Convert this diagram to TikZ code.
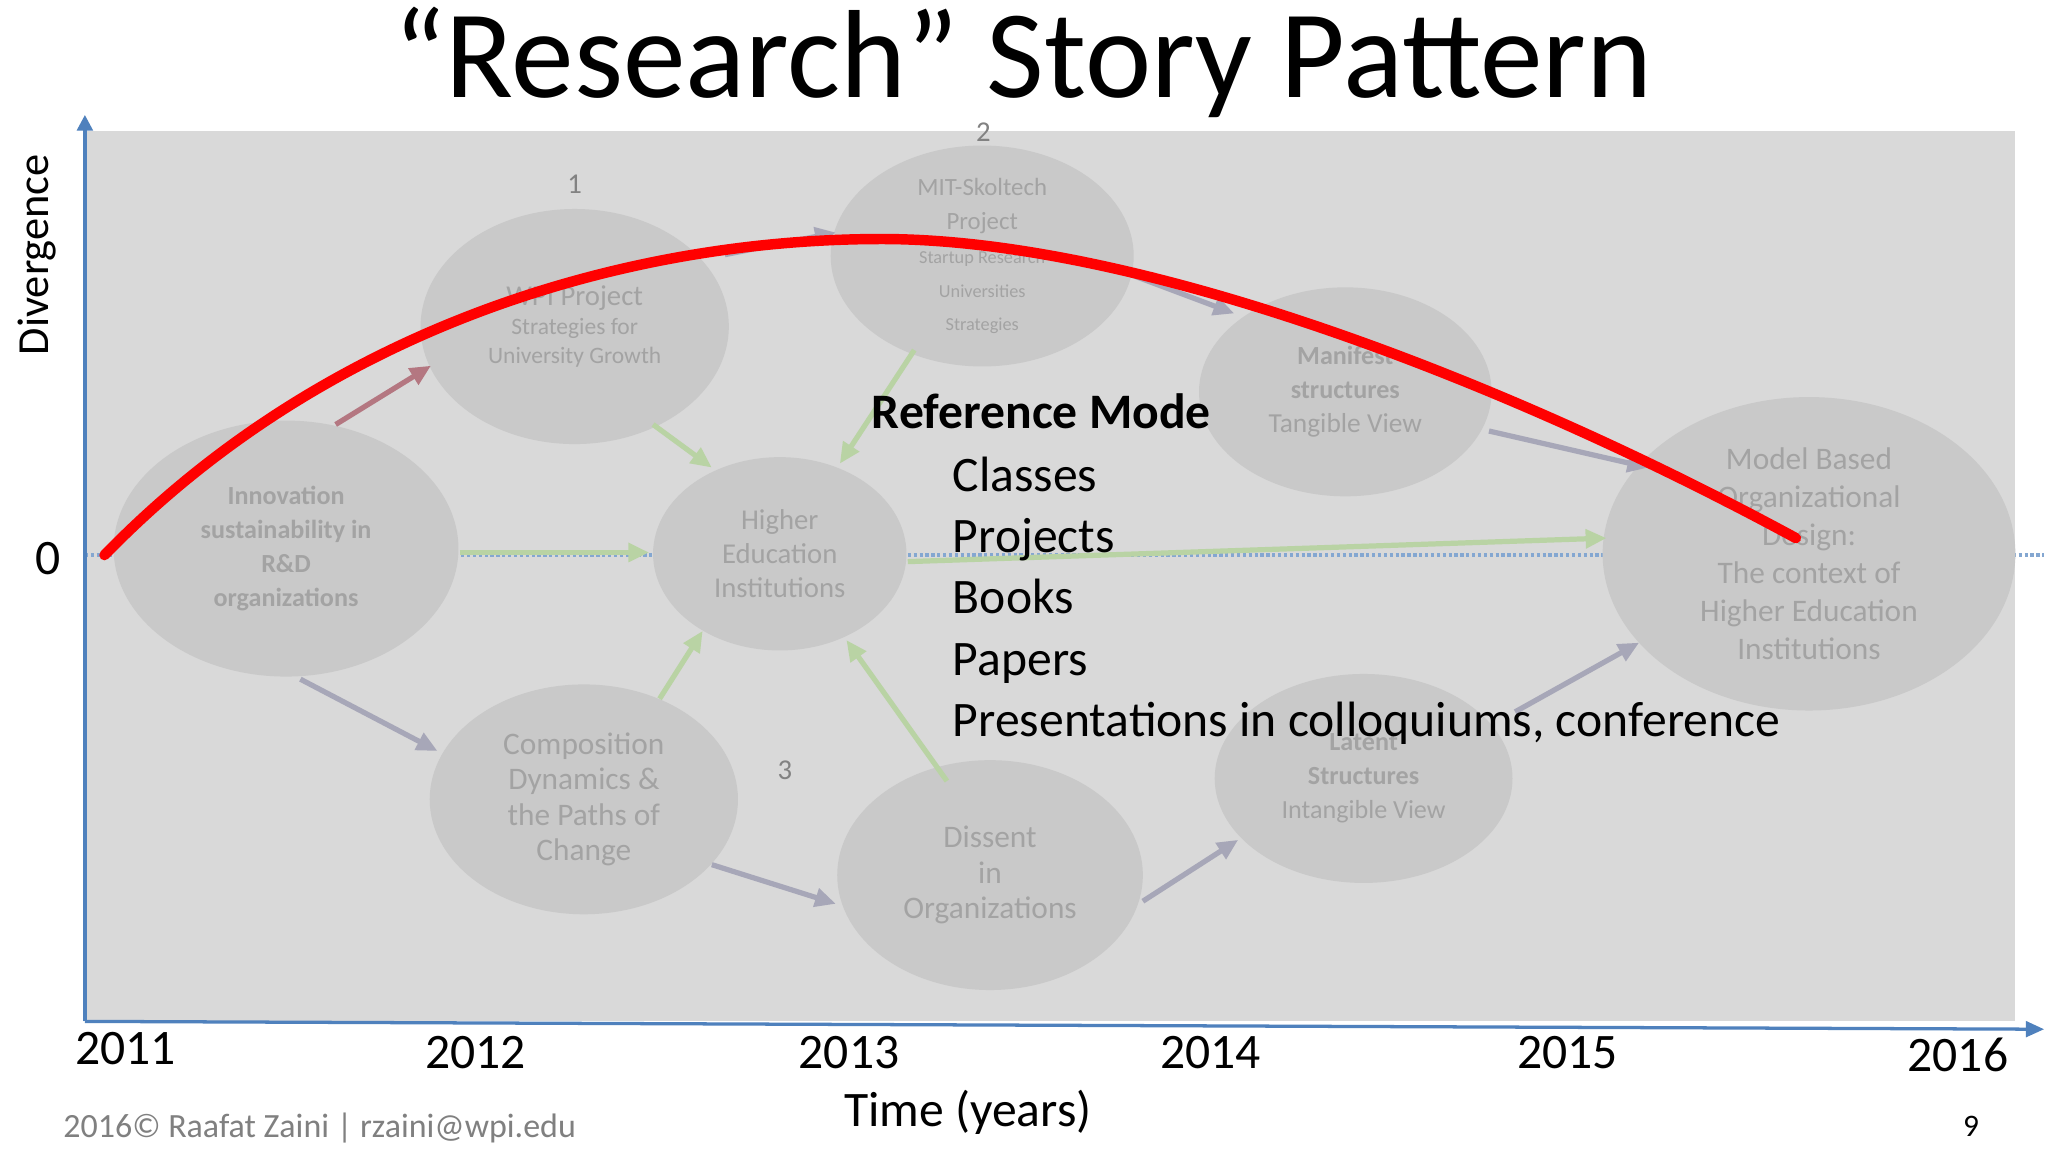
\documentclass[tikz,border=0pt]{standalone}
\usepackage{fontspec}
\setmainfont{Carlito}
\usetikzlibrary{arrows.meta,shapes.geometric}
\begin{document}
\begin{tikzpicture}[x=1pt,y=-1pt,
  ell/.style={ellipse,fill=ellfill,text=elltext,align=center,font=\fontsize{20}{26}\selectfont,inner sep=0pt},
  garr/.style={-{Triangle[length=16pt,width=14pt]},line width=4pt,draw=grayarr},
  gnarr/.style={-{Triangle[length=16pt,width=14pt]},line width=4pt,draw=greenarr},
  yr/.style={font=\fontsize{38}{40}\selectfont}]
\definecolor{bg}{HTML}{D9D9D9}
\definecolor{ellfill}{HTML}{C9C9C9}
\definecolor{elltext}{HTML}{A3A3A3}
\definecolor{grayarr}{HTML}{A7A7B8}
\definecolor{greenarr}{HTML}{B9D3A4}
\definecolor{axis}{HTML}{4F81BD}
\useasboundingbox (0,0) rectangle (1568,882);
\fill[white] (0,0) rectangle (1568,882);
\fill[bg] (65,100) rectangle (1543,782);
\draw[axis!70,line width=2.5pt,dotted] (65,425) -- (1565,425);
\begin{scope}[every node/.style={ell}]
\node[minimum width=264pt,minimum height=196pt] (inn) at (219,420) {\textbf{Innovation}\\\textbf{sustainability in}\\\textbf{R\&D}\\\textbf{organizations}};
\node[minimum width=236pt,minimum height=180pt,font=\fontsize{18}{22}\selectfont] (wpi) at (440,250) {\fontsize{22}{24}\selectfont WPI Project\\Strategies for\\University Growth};
\node[minimum width=232pt,minimum height=160pt] (mit) at (752,196) {\fontsize{19}{23}\selectfont MIT-Skoltech\\\fontsize{19}{23}\selectfont Project\\\fontsize{14}{18}\selectfont Startup Research\\\fontsize{14}{18}\selectfont Universities\\\fontsize{14}{18}\selectfont Strategies};
\node[minimum width=224pt,minimum height=160pt] (man) at (1030,300) {\textbf{Manifest}\\\textbf{structures}\\\fontsize{21}{26}\selectfont Tangible View};
\node[minimum width=194pt,minimum height=148pt,font=\fontsize{22}{26}\selectfont] (hei) at (597,424) {Higher\\Education\\Institutions};
\node[minimum width=316pt,minimum height=240pt,font=\fontsize{24}{29}\selectfont] (mbo) at (1385,424) {Model Based\\Organizational\\Design:\\The context of\\Higher Education\\Institutions};
\node[minimum width=236pt,minimum height=176pt,font=\fontsize{24}{27}\selectfont] (com) at (447,612) {Composition\\Dynamics \&\\the Paths of\\Change};
\node[minimum width=234pt,minimum height=176pt,font=\fontsize{24}{27}\selectfont] (dis) at (758,670) {Dissent\\in\\Organizations};
\node[minimum width=228pt,minimum height=160pt] (lat) at (1044,596) {\textbf{Latent}\\\textbf{Structures}\\Intangible View};
\end{scope}
\draw[garr,draw=grayarr!70!red!80!gray] (257,325) -- (330,280);
\draw[garr] (555,195) -- (640,178);
\draw[garr] (865,210) -- (945,240);
\draw[garr] (1140,330) -- (1262,358);
\draw[garr] (230,520) -- (335,575);
\draw[garr] (545,662) -- (640,692);
\draw[garr] (875,690) -- (948,643);
\draw[garr] (1160,545) -- (1255,492);
\draw[gnarr] (352,423) -- (497,423);
\draw[gnarr] (500,325) -- (545,358);
\draw[gnarr] (700,268) -- (643,355);
\draw[gnarr] (505,535) -- (538,483);
\draw[gnarr] (725,598) -- (648,490);
\draw[gnarr] (695,430) -- (1230,412);
\draw[axis,line width=2.5pt,-{Triangle[length=12pt,width=12pt]}] (65,782) -- (65,88);
\draw[axis,line width=2.5pt,-{Triangle[length=14pt,width=12pt]}] (65,782) -- (1565,788);
\draw[red,line width=8pt,line cap=round] (80,425) .. controls (250,250) and (480,183) .. (675,183) .. controls (870,183) and (1150,290) .. (1375,412);
\node[font=\fontsize{96}{98}\selectfont] (title) at (783,48) {“Research” Story Pattern};
\node[font=\fontsize{34}{36}\selectfont,rotate=90] (div) at (28,195) {Divergence};
\node[font=\fontsize{38}{40}\selectfont] (zero) at (37,428) {0};
\node[font=\fontsize{22}{24}\selectfont,text=elltext!80!black] (n1) at (440,141) {1};
\node[font=\fontsize{22}{24}\selectfont,text=elltext!80!black] (n2) at (753,101) {2};
\node[font=\fontsize{22}{24}\selectfont,text=elltext!80!black] (n3) at (601,590) {3};
\node[anchor=base west,font=\bfseries\fontsize{38}{40}\selectfont] (rm) at (664,328) {Reference Mode};
\begin{scope}[every node/.style={anchor=base west,font=\fontsize{38}{40}\selectfont}]
\node (c1) at (726,376) {Classes};
\node (c2) at (726,423) {Projects};
\node (c3) at (726,470) {Books};
\node (c4) at (726,517) {Papers};
\node (c5) at (726,564) {Presentations in colloquiums, conference};
\end{scope}
\node[yr] (y1) at (96,803) {2011};
\node[yr] (y2) at (364,806) {2012};
\node[yr] (y3) at (650,806) {2013};
\node[yr] (y4) at (927,806) {2014};
\node[yr] (y5) at (1200,806) {2015};
\node[yr] (y6) at (1499,808) {2016};
\node[font=\fontsize{38}{40}\selectfont] (tx) at (741,852) {Time (years)};
\node[anchor=west,font=\fontsize{26}{28}\selectfont,text=gray] (ft) at (45,864) {2016© Raafat Zaini | rzaini@wpi.edu};
\node[font=\fontsize{24}{26}\selectfont] (pg) at (1509,862) {9};
\end{tikzpicture}
\end{document}
